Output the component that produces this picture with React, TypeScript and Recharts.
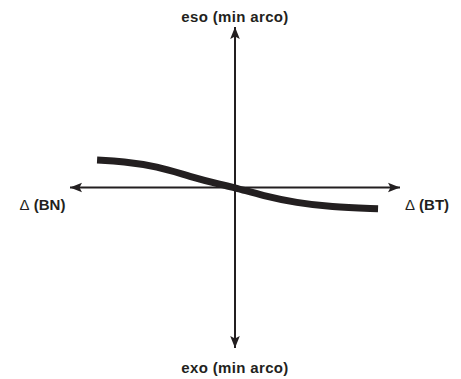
import React from 'react';
import { LineChart, Line, XAxis, YAxis, ReferenceLine, ReferenceDot } from 'recharts';

// Curve: shift vs. Δ (normalised units, -1..1 on each axis)
const curveX = [-0.836, -0.679, -0.473, -0.273, -0.073, 0, 0.17, 0.376, 0.576, 0.867];
const curveY = [0.171, 0.163, 0.132, 0.068, 0.014, 0, -0.052, -0.096, -0.121, -0.132];

const AXIS_MIN = -1;
const AXIS_MAX = 1;

const topLabel = 'eso (min arco)';
const bottomLabel = 'exo (min arco)';
const leftLabel = '(BN)';
const rightLabel = '(BT)';
const deltaSymbol = 'Δ';

const data = curveX.map((x, i) => ({ x, y: curveY[i] }));

const INK = '#231f20';
const FONT = '"Liberation Sans", Arial, sans-serif';

type Dir = 'left' | 'right' | 'up' | 'down';

const arrowShape = (dir: Dir) => (props: any) => {
  const { cx, cy } = props;
  const L = 12;
  const W = 4.8;
  const n = 2.5;
  let pts: number[][];
  if (dir === 'left') pts = [[cx, cy], [cx + L, cy - W], [cx + L - n, cy], [cx + L, cy + W]];
  else if (dir === 'right') pts = [[cx, cy], [cx - L, cy - W], [cx - L + n, cy], [cx - L, cy + W]];
  else if (dir === 'up') pts = [[cx, cy], [cx - W, cy + L], [cx, cy + L - n], [cx + W, cy + L]];
  else pts = [[cx, cy], [cx - W, cy - L], [cx, cy - L + n], [cx + W, cy - L]];
  return <polygon points={pts.map((p) => p.join(',')).join(' ')} fill={INK} />;
};

const textShape = (label: string, dx: number, dy: number, delta: boolean) => (props: any) => {
  const { cx, cy } = props;
  return (
    <text
      x={cx + dx}
      y={cy + dy}
      textAnchor="middle"
      fontFamily={FONT}
      fontSize={15}
      fontWeight="bold"
      letterSpacing={delta ? 0 : 0.35}
      fill={INK}
    >
      {delta ? (
        <>
          <tspan fontWeight="normal">{deltaSymbol}</tspan>
          <tspan> {label}</tspan>
        </>
      ) : (
        label
      )}
    </text>
  );
};

export default function App() {
  return (
    <div style={{ position: 'absolute', left: 0, top: 0, background: '#fff' }}>
      <LineChart width={461} height={379} data={data} margin={{ top: 27, right: 61, bottom: 31, left: 70 }}>
        <XAxis dataKey="x" type="number" domain={[AXIS_MIN, AXIS_MAX]} hide />
        <YAxis type="number" domain={[AXIS_MIN, AXIS_MAX]} hide />
        <ReferenceLine
          segment={[{ x: AXIS_MIN, y: 0 }, { x: AXIS_MAX, y: 0 }]}
          stroke={INK}
          strokeWidth={2}
          ifOverflow="visible"
        />
        <ReferenceLine
          segment={[{ x: 0, y: AXIS_MIN }, { x: 0, y: AXIS_MAX }]}
          stroke={INK}
          strokeWidth={2}
          ifOverflow="visible"
        />
        <Line
          dataKey="y"
          type="basis"
          stroke={INK}
          strokeWidth={7}
          dot={false}
          activeDot={false}
          isAnimationActive={false}
        />
        <ReferenceDot x={AXIS_MIN} y={0} r={0} ifOverflow="visible" shape={arrowShape('left')} />
        <ReferenceDot x={AXIS_MAX} y={0} r={0} ifOverflow="visible" shape={arrowShape('right')} />
        <ReferenceDot x={0} y={AXIS_MAX} r={0} ifOverflow="visible" shape={arrowShape('up')} />
        <ReferenceDot x={0} y={AXIS_MIN} r={0} ifOverflow="visible" shape={arrowShape('down')} />
        <ReferenceDot x={0} y={AXIS_MAX} r={0} ifOverflow="visible" shape={textShape(topLabel, 0, -5, false)} />
        <ReferenceDot x={0} y={AXIS_MIN} r={0} ifOverflow="visible" shape={textShape(bottomLabel, 0, 25, false)} />
        <ReferenceDot x={AXIS_MIN} y={0} r={0} ifOverflow="visible" shape={textShape(leftLabel, -27.5, 22, true)} />
        <ReferenceDot x={AXIS_MAX} y={0} r={0} ifOverflow="visible" shape={textShape(rightLabel, 27, 22, true)} />
      </LineChart>
    </div>
  );
}
